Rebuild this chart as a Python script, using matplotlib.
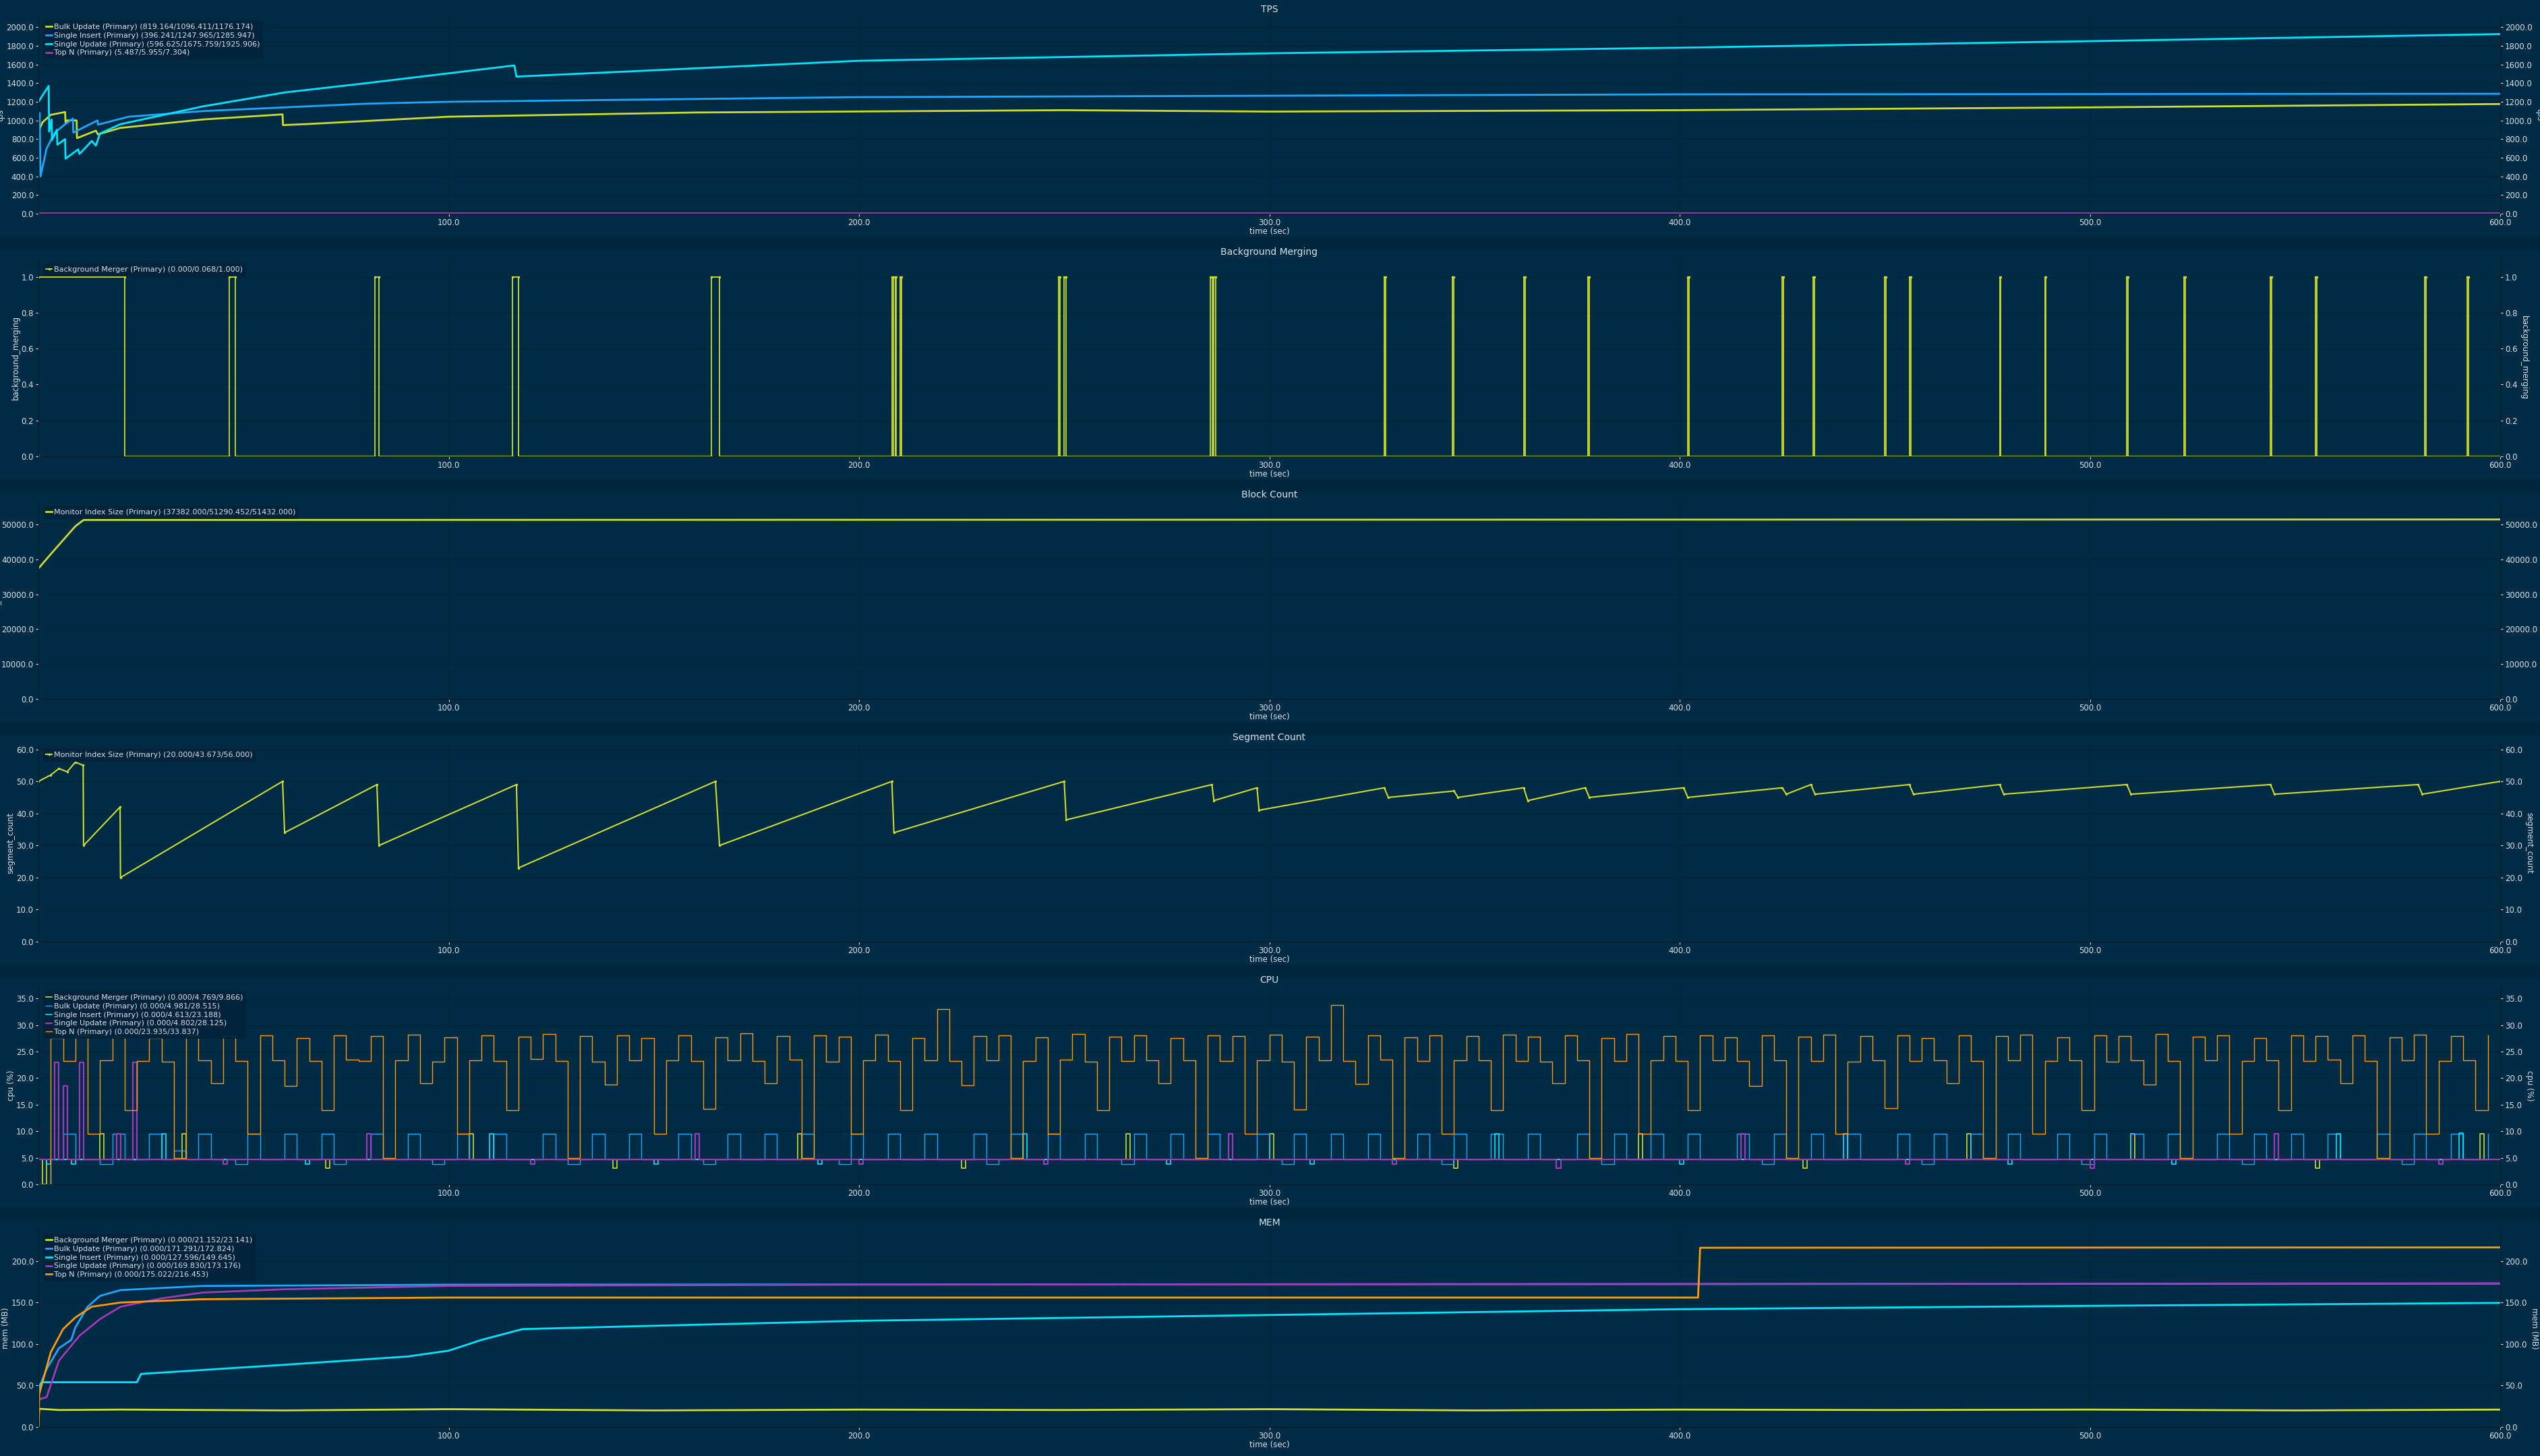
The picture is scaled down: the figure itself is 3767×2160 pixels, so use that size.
import numpy as np
import matplotlib
matplotlib.use("Agg")
import matplotlib.pyplot as plt

BG = "#002b45"
SEP = "#00263d"
TXT = "#d8e2ea"
YEL = "#cfdc29"
BLU = "#1ea7fd"
CYA = "#00e5ff"
PUR = "#a23ab8"
ORA = "#ff9a0a"

# ---------------- TPS ----------------
bulk_t = [0, 1, 3, 6.5, 6.6, 7, 9.3, 9.4, 14, 14.5, 20, 40, 59.5, 59.6, 65, 100, 160, 250, 300, 400, 500, 600]
bulk_v = [880, 980, 1060, 1090, 980, 1000, 1000, 810, 890, 850, 920, 1010, 1065, 950, 960, 1040, 1085, 1110, 1095, 1110, 1140, 1176]
ins_t = [0, 0.3, 0.5, 2, 4, 6.5, 8.4, 8.5, 14.4, 14.5, 22, 40, 80, 100, 200, 400, 600]
ins_v = [1040, 1080, 400, 700, 870, 960, 1020, 870, 1000, 955, 1040, 1100, 1180, 1200, 1250, 1280, 1286]
upd_t = [0, 2.5, 2.6, 3.2, 3.3, 4.5, 4.6, 6.5, 6.6, 9.7, 10, 13, 14, 15, 20, 40, 60, 80, 116, 116.5, 200, 300, 400, 500, 600]
upd_v = [1200, 1370, 880, 1010, 790, 900, 740, 800, 590, 690, 640, 780, 730, 860, 960, 1150, 1300, 1400, 1590, 1470, 1640, 1720, 1780, 1850, 1926]
topn_t = [0, 600]
topn_v = [6.0, 6.0]

# ---------------- Background merging ----------------
merge_start = [0, 46.5, 82, 115.5, 164, 208, 208.8, 210, 248.6, 250, 285.6, 286.4, 328, 344.7, 362, 377.6,
               402, 425, 432.5, 450, 456, 478, 489, 509, 523, 544, 555, 581.6, 592]
merge_len = [21, 1.5, 1, 1.5, 2, 0.3, 0.3, 0.4, 0.4, 0.5, 0.5, 0.5, 0.3, 0.3, 0.3, 0.3,
             0.3, 0.3, 0.3, 0.3, 0.3, 0.3, 0.3, 0.3, 0.3, 0.3, 0.3, 0.4, 0.3]

# ---------------- Block count ----------------
blk_t = [0, 3, 6, 9, 11, 20, 600]
blk_v = [37382, 41500, 45500, 49500, 51290, 51290, 51432]

# ---------------- Segment count ----------------
seg_t = [0, 3, 5, 7, 9, 10.9, 11, 19.9, 20, 59.5, 60, 82.5, 83, 116.5, 117, 165, 166, 208, 208.5, 250, 250.5,
         286, 286.5, 297, 297.5, 328, 329, 345, 346, 362, 363, 377, 378, 401, 402, 425, 426, 432, 433, 456, 457,
         478, 479, 509, 510, 544, 545, 580, 581, 600]
seg_v = [50, 52, 54, 53, 56, 55, 30, 42, 20, 50, 34, 49, 30, 49, 23, 50, 30, 50, 34, 50, 38, 49, 44, 48, 41, 48,
         45, 47, 45, 48, 44, 48, 45, 48, 45, 48, 46, 49, 46, 49, 46, 49, 46, 49, 46, 49, 46, 49, 46, 50]

# ---------------- CPU ----------------
cpu_t = list(range(0, 600, 3))
cpu_topn = [0, 27.5, 23.2, 28, 9.5, 23.3, 27.8, 14, 23.2, 27.5, 23.1, 5, 28, 23.3, 19, 27.9, 23.2, 9.5, 28, 23.4,
            18.6, 27.6, 23.2, 14, 28.1, 23.5, 23.2, 27.9, 5, 23.4, 28.2, 19, 23.1, 27.7, 9.5, 23.3, 28, 23.2, 14, 27.8,
            23.6, 28.3, 23.2, 5, 27.9, 23.1, 18.8, 28, 23.3, 27.5, 9.5, 23.4, 28.1, 23.2, 14.2, 27.7, 23.3, 28.4, 23.2, 19,
            27.9, 23.5, 5, 28, 23.1, 27.8, 9.5, 23.3, 28.2, 23.2, 14, 27.6, 23.4, 33, 23.2, 18.7, 27.9, 23.3, 28, 5,
            23.2, 27.7, 9.5, 23.5, 28.3, 23.1, 14, 27.8, 23.2, 28, 23.4, 19, 27.6, 23.3, 5, 28.1, 23.2, 27.9, 9.5, 23.4,
            28.2, 23.1, 14.1, 27.8, 23.3, 33.8, 23.2, 18.9, 28, 23.5, 5, 27.7, 23.2, 28.1, 9.5, 23.3, 27.9, 23.4, 14, 28.2,
            23.2, 27.8, 23.1, 19, 28, 23.3, 5, 27.6, 23.2, 28.3, 9.5, 23.4, 27.9, 23.2, 14, 28.1, 23.3, 27.7, 23.2, 18.6,
            28, 23.4, 5, 27.8, 23.2, 28.2, 9.5, 23.1, 27.9, 23.3, 14.3, 28, 23.2, 27.6, 23.4, 19, 28.1, 23.2, 5, 27.9,
            23.3, 28.2, 9.5, 23.2, 27.7, 23.4, 14, 28, 23.1, 27.9, 23.3, 18.8, 28.3, 23.2, 5, 27.8, 23.4, 28, 9.5, 23.2,
            27.6, 23.3, 14, 28.1, 23.2, 27.9, 23.5, 19, 28, 23.2, 5, 27.7, 23.3, 28.2, 9.5, 23.2, 27.9, 23.4, 14, 28]
cpu_bulk = [0, 4.7, 9.5, 4.7, 4.7, 3.8, 9.5, 4.7, 4.7, 9.5, 4.7, 6.4, 4.7, 9.5, 4.7, 4.7, 3.8, 9.5, 4.7, 4.7,
            9.5, 4.7, 4.7, 9.5, 3.8, 4.7, 4.7, 9.5, 4.7, 4.7, 9.5, 4.7, 3.8, 4.7, 9.5, 4.7, 4.7, 9.5, 4.7, 4.7,
            4.7, 9.5, 4.7, 3.8, 4.7, 9.5, 4.7, 4.7, 9.5, 4.7, 4.7, 4.7, 9.5, 4.7, 3.8, 4.7, 9.5, 4.7, 4.7, 9.5,
            4.7, 4.7, 9.5, 4.7, 4.7, 3.8, 9.5, 4.7, 4.7, 9.5, 4.7, 4.7, 9.5, 4.7, 4.7, 4.7, 9.5, 3.8, 4.7, 9.5,
            4.7, 4.7, 9.5, 4.7, 4.7, 9.5, 4.7, 4.7, 3.8, 9.5, 4.7, 4.7, 9.5, 4.7, 4.7, 9.5, 4.7, 4.7, 4.7, 9.5,
            4.7, 3.8, 9.5, 4.7, 4.7, 9.5, 4.7, 4.7, 9.5, 4.7, 4.7, 4.7, 9.5, 4.7, 3.8, 9.5, 4.7, 4.7, 9.5, 4.7,
            4.7, 9.5, 4.7, 4.7, 4.7, 9.5, 4.7, 3.8, 9.5, 4.7, 4.7, 9.5, 4.7, 4.7, 9.5, 4.7, 4.7, 4.7, 9.5, 4.7,
            3.8, 9.5, 4.7, 4.7, 9.5, 4.7, 4.7, 9.5, 4.7, 4.7, 4.7, 9.5, 4.7, 3.8, 9.5, 4.7, 4.7, 9.5, 4.7, 4.7,
            9.5, 4.7, 4.7, 4.7, 9.5, 4.7, 3.8, 9.5, 4.7, 4.7, 9.5, 4.7, 4.7, 9.5, 4.7, 4.7, 4.7, 9.5, 4.7, 3.8,
            9.5, 4.7, 4.7, 9.5, 4.7, 4.7, 9.5, 4.7, 4.7, 4.7, 9.5, 4.7, 3.8, 9.5, 4.7, 4.7, 9.5, 4.7, 4.7, 9.5]
cpu_base = 4.7
# spikes: start time (s) and value, each about 1 s long
cpu_ins_spk_t = [2, 8, 30, 65, 110, 150, 190, 240, 275, 310, 355, 400, 440, 480, 520, 560, 590]
cpu_ins_spk_v = [3.8, 3.8, 9.5, 3.8, 9.5, 3.8, 3.8, 9.5, 3.8, 3.8, 9.5, 3.8, 9.5, 3.8, 3.8, 9.5, 9.7]
cpu_upd_spk_t = [4, 6, 10, 19, 23, 45, 80, 120, 160, 200, 245, 290, 330, 370, 415, 455, 500, 545, 585]
cpu_upd_spk_v = [23, 18.6, 23, 9.5, 23, 3.8, 9.5, 3.8, 9.5, 3.8, 3.8, 9.5, 3.8, 3.0, 9.5, 3.8, 3.0, 9.5, 3.8]
cpu_mrg_spk_t = [1, 15, 35, 70, 105, 140, 185, 225, 265, 300, 345, 390, 430, 470, 510, 555, 595]
cpu_mrg_spk_v = [0, 9.5, 9.5, 3.0, 9.5, 3.0, 9.5, 3.0, 9.5, 9.5, 3.0, 9.5, 3.0, 9.5, 9.5, 3.0, 9.5]

# ---------------- MEM ----------------
mmerge_t = [0, 0.2, 5, 20, 60, 100, 150, 200, 250, 300, 350, 400, 450, 500, 550, 600]
mmerge_v = [0, 22, 20.5, 21, 20, 21.5, 20, 21, 20.5, 21.5, 20, 21, 20.5, 21, 20, 21]
mbulk_t = [0, 2, 5, 8, 9, 12, 15, 20, 40, 100, 600]
mbulk_v = [45, 70, 95, 105, 120, 145, 158, 165, 170, 171.5, 172.8]
mins_t = [0, 0.5, 1, 24, 25, 60, 90, 100, 108, 118, 150, 200, 300, 400, 500, 600]
mins_v = [45, 52, 54, 54, 64, 75, 85, 92, 105, 118, 122, 128, 135, 142, 146, 149.6]
mupd_t = [0, 2, 5, 10, 15, 20, 30, 40, 60, 100, 200, 600]
mupd_v = [33, 36, 80, 110, 130, 145, 155, 162, 166, 170, 171.5, 173.2]
mtop_t = [0, 0.2, 3, 6, 9, 13, 20, 40, 100, 404.5, 405, 600]
mtop_v = [0, 40, 90, 118, 132, 145, 150, 154, 156, 156, 216, 216.4]


def spikes(ts, vs, base=cpu_base, width=1.0):
    xs, ys = [0], [base]
    for t, v in zip(ts, vs):
        xs += [t, t, t + width, t + width]
        ys += [base, v, v, base]
    xs.append(600); ys.append(base)
    return xs, ys


fig = plt.figure(figsize=(37.67, 21.6), dpi=100, facecolor=BG)
for i in range(1, 6):
    fig.patches.append(plt.Rectangle((0, 1 - i / 6 - 0.004), 1, 0.008, transform=fig.transFigure,
                                     color=SEP, zorder=-1))

x0, x1 = 57 / 3767, 3708 / 3767
panels = []
for i in range(6):
    top = 1 - (i * 360 + 24) / 2160
    bot = 1 - (i * 360 + 317) / 2160
    panels.append(fig.add_axes([x0, bot, x1 - x0, top - bot], facecolor=BG))

FS = 8.5


def style(ax, title, ylabel, ymax, ticks):
    ax.set_xlim(0, 600)
    ax.set_ylim(0, ymax)
    ax.set_title(title, color=TXT, fontsize=10, pad=4)
    ax.set_ylabel(ylabel, color=TXT, fontsize=FS, labelpad=1)
    ax.set_xlabel("time (sec)", color=TXT, fontsize=FS, labelpad=0)
    ax.set_xticks([100, 200, 300, 400, 500, 600])
    ax.set_xticklabels([f"{v:.1f}" for v in [100, 200, 300, 400, 500, 600]])
    ax.set_yticks(ticks)
    ax.set_yticklabels([f"{t:.1f}" for t in ticks])
    ax.tick_params(colors=TXT, labelsize=FS, length=3, pad=2)
    ax.grid(True, color="#00233a", linewidth=1)
    for s in ax.spines.values():
        s.set_color("#0a1a26")
    ax.spines["top"].set_visible(False)
    tw = ax.twinx()
    tw.set_ylim(0, ymax)
    tw.set_yticks(ticks)
    tw.set_yticklabels([f"{t:.1f}" for t in ticks])
    tw.tick_params(colors=TXT, labelsize=FS, length=3, pad=2)
    tw.set_ylabel(ylabel, color=TXT, fontsize=FS, rotation=270, labelpad=12)
    for s in tw.spines.values():
        s.set_color("#0a1a26")
    tw.spines["top"].set_visible(False)


def legend(ax):
    lg = ax.legend(loc="upper left", fontsize=8, frameon=True, facecolor="#01233a", edgecolor="none",
                   framealpha=0.9, handlelength=0.8, handletextpad=0.3, borderaxespad=0.6, labelspacing=0.25)
    for t in lg.get_texts():
        t.set_color(TXT)


# TPS
ax = panels[0]
ax.plot(bulk_t, bulk_v, color=YEL, lw=2, label="Bulk Update (Primary) (819.164/1096.411/1176.174)")
ax.plot(ins_t, ins_v, color=BLU, lw=2, label="Single Insert (Primary) (396.241/1247.965/1285.947)")
ax.plot(upd_t, upd_v, color=CYA, lw=2, label="Single Update (Primary) (596.625/1675.759/1925.906)")
ax.plot(topn_t, topn_v, color=PUR, lw=2, label="Top N (Primary) (5.487/5.955/7.304)")
style(ax, "TPS", "tps", 2118, [0, 200, 400, 600, 800, 1000, 1200, 1400, 1600, 1800, 2000])
legend(ax)

# Background merging
ax = panels[1]
mt, mv = [], []
for s, d in zip(merge_start, merge_len):
    mt += [s, s, s + d, s + d]
    mv += [0, 1, 1, 0]
mt.append(600); mv.append(0)
ax.plot(mt, mv, color=YEL, lw=1.3, marker="o", markersize=1.5,
        label="Background Merger (Primary) (0.000/0.068/1.000)")
style(ax, "Background Merging", "background_merging", 1.1, [0, 0.2, 0.4, 0.6, 0.8, 1.0])
legend(ax)

# Block count
ax = panels[2]
ax.plot(blk_t, blk_v, color=YEL, lw=2, label="Monitor Index Size (Primary) (37382.000/51290.452/51432.000)")
style(ax, "Block Count", "block_count", 56575, [0, 10000, 20000, 30000, 40000, 50000])
legend(ax)

# Segment count
ax = panels[3]
ax.plot(seg_t, seg_v, color=YEL, lw=1.5, marker="o", markersize=1.5,
        label="Monitor Index Size (Primary) (20.000/43.673/56.000)")
style(ax, "Segment Count", "segment_count", 61.6, [0, 10, 20, 30, 40, 50, 60])
legend(ax)

# CPU
ax = panels[4]
xs, ys = spikes(cpu_mrg_spk_t, cpu_mrg_spk_v)
ax.plot(xs, ys, color=YEL, lw=1.2, label="Background Merger (Primary) (0.000/4.769/9.866)")
ax.step(cpu_t, cpu_bulk, where="post", color=BLU, lw=1.0, label="Bulk Update (Primary) (0.000/4.981/28.515)")
xs, ys = spikes(cpu_ins_spk_t, cpu_ins_spk_v)
ax.plot(xs, ys, color=CYA, lw=1.2, label="Single Insert (Primary) (0.000/4.613/23.188)")
xs, ys = spikes(cpu_upd_spk_t, cpu_upd_spk_v)
ax.plot(xs, ys, color=PUR, lw=1.6, label="Single Update (Primary) (0.000/4.802/28.125)")
ax.step(cpu_t, cpu_topn, where="post", color=ORA, lw=1.0, label="Top N (Primary) (0.000/23.935/33.837)")
style(ax, "CPU", "cpu (%)", 37.2, [0, 5, 10, 15, 20, 25, 30, 35])
legend(ax)

# MEM
ax = panels[5]
ax.plot(mmerge_t, mmerge_v, color=YEL, lw=2, label="Background Merger (Primary) (0.000/21.152/23.141)")
ax.plot(mbulk_t, mbulk_v, color=BLU, lw=2, label="Bulk Update (Primary) (0.000/171.291/172.824)")
ax.plot(mins_t, mins_v, color=CYA, lw=2, label="Single Insert (Primary) (0.000/127.596/149.645)")
ax.plot(mupd_t, mupd_v, color=PUR, lw=2, label="Single Update (Primary) (0.000/169.830/173.176)")
ax.plot(mtop_t, mtop_v, color=ORA, lw=2, label="Top N (Primary) (0.000/175.022/216.453)")
style(ax, "MEM", "mem (MB)", 238, [0, 50, 100, 150, 200])
legend(ax)

fig.savefig("out.png", dpi=100, facecolor=BG)
